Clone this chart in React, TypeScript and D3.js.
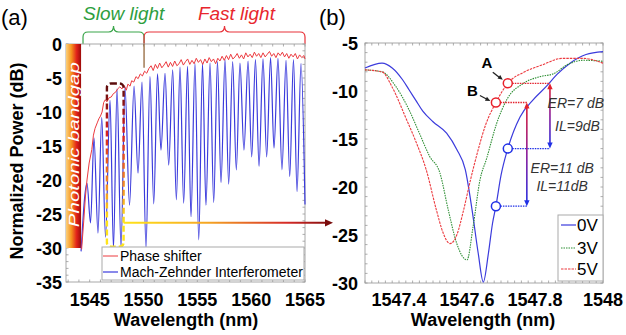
import React from 'react'
import * as d3 from 'd3'

// ---- panel (a) data ----
const wlTicksA = [1545, 1550, 1555, 1560, 1565]
const dbTicksA = [0, -5, -10, -15, -20, -25, -30, -35]

const phaseWl = [
  1544.25, 1544.45, 1544.6, 1544.75, 1544.95, 1545.2, 1545.35, 1545.5, 1545.7, 1545.85,
  1546.0, 1546.15, 1546.3, 1546.45, 1546.6, 1546.8, 1547.0, 1547.2, 1547.4, 1547.6,
  1547.8, 1548.0, 1548.2, 1548.4, 1548.55, 1548.75, 1548.9, 1549.1, 1549.3, 1549.5,
  1549.7, 1549.9, 1550.1, 1550.3, 1550.5, 1550.7, 1550.9, 1551.1, 1551.3, 1551.5,
  1551.7, 1551.9, 1552.1, 1552.3, 1552.5, 1552.7, 1552.9, 1553.1, 1553.3, 1553.5,
  1553.7, 1553.9, 1554.1, 1554.3, 1554.5, 1554.7, 1554.9, 1555.1, 1555.3, 1555.5,
  1555.7, 1555.9, 1556.1, 1556.3, 1556.5, 1556.7, 1556.9, 1557.1, 1557.3, 1557.5,
  1557.7, 1557.9, 1558.1, 1558.3, 1558.5, 1558.7, 1558.9, 1559.1, 1559.3, 1559.5,
  1559.7, 1559.9, 1560.1, 1560.3, 1560.5, 1560.7, 1560.9, 1561.1, 1561.3, 1561.5,
  1561.7, 1561.9, 1562.1, 1562.3, 1562.5, 1562.7, 1562.9, 1563.1, 1563.3, 1563.5,
  1563.7, 1563.9, 1564.1, 1564.3, 1564.5, 1564.7, 1564.9, 1565.0,
]
const phaseDb = [
  -30.2, -26, -22.5, -20, -17.5, -15.5, -13.4, -12.4, -11.6, -11.0,
  -10.6, -10.0, -8.6, -8.2, -8.5, -7.9, -7.8, -7.3, -7.1, -6.6,
  -6.3, -6.6, -6.1, -6.8, -5.9, -6.2, -5.4, -5.6, -4.8, -5.1,
  -4.4, -4.7, -4.0, -4.3, -3.6, -3.2, -3.9, -3.0, -3.6, -2.8,
  -3.5, -3.1, -2.6, -3.4, -2.7, -3.3, -2.5, -3.2, -2.9, -2.3,
  -3.1, -2.6, -2.2, -3.0, -2.4, -2.9, -2.1, -2.7, -2.3, -3.0,
  -2.2, -2.8, -2.0, -2.6, -2.2, -2.9, -2.1, -2.5, -1.8, -2.4,
  -1.7, -2.3, -1.5, -2.2, -1.9, -1.4, -2.1, -1.6, -2.2, -1.3,
  -1.9, -1.5, -2.0, -1.2, -1.8, -1.4, -2.0, -1.3, -1.9, -1.5,
  -1.1, -1.8, -1.4, -2.0, -1.3, -1.7, -1.2, -1.9, -1.4, -2.1,
  -1.5, -1.9, -1.4, -2.2, -1.6, -2.0, -1.7, -2.2,
]

const mziWl = [
  1544.2, 1544.75, 1545.08, 1545.4, 1545.77, 1546.12, 1546.47, 1546.89, 1547.21, 1547.54,
  1547.91, 1548.28, 1548.7, 1549.12, 1549.49, 1549.86, 1550.23, 1550.6, 1550.95, 1551.3,
  1551.62, 1552.0, 1552.34, 1552.71, 1553.05, 1553.39, 1553.73, 1554.09, 1554.41, 1554.78,
  1555.13, 1555.48, 1555.8, 1556.18, 1556.52, 1556.87, 1557.2, 1557.57, 1557.91, 1558.28,
  1558.62, 1558.96, 1559.33, 1559.71, 1560.05, 1560.4, 1560.73, 1561.1, 1561.44, 1561.8,
  1562.12, 1562.49, 1562.86, 1563.24, 1563.58, 1563.93, 1564.26, 1564.63, 1565.0,
]
const mziDb = [
  -30.5, -20.5, -26.3, -13.8, -27.8, -10.8, -28.4, -8.3, -30, -6.6,
  -30, -6.3, -23.7, -6.2, -19, -5.6, -30, -4.8, -23.5, -4.4,
  -15.6, -4.3, -17.8, -3.8, -22.9, -3.4, -23.4, -3.3, -25.4, -2.9,
  -28.8, -2.9, -23.7, -2.8, -23.3, -2.6, -20.4, -2.3, -20.6, -2.6,
  -18.5, -2.8, -15.6, -2.5, -16.6, -2.3, -18, -2.2, -16.6, -2.0,
  -15.3, -2.1, -18.5, -2.4, -19.5, -2.3, -21.7, -2.9, -23.6,
]

// ---- panel (b) data ----
const wlTicksB = [1547.4, 1547.6, 1547.8, 1548]
const dbTicksB = [-5, -10, -15, -20, -25, -30]

const wl0V = [1547.3, 1547.35, 1547.38, 1547.41, 1547.43, 1547.45, 1547.47, 1547.5, 1547.54, 1547.57, 1547.595, 1547.615, 1547.633, 1547.648, 1547.663, 1547.675, 1547.685, 1547.7, 1547.72, 1547.756, 1547.795, 1547.834, 1547.864, 1547.903, 1547.95, 1548.0]
const db0V = [-7.6, -7.1, -7.6, -8.8, -9.9, -11.0, -12.1, -13.2, -14.4, -16.1, -18.2, -22.4, -26.9, -29.9, -26.9, -23.8, -22.0, -18.8, -16.0, -12.7, -10.9, -9.5, -8.3, -7.1, -6.2, -5.9]

const wl3V = [1547.3, 1547.35, 1547.39, 1547.43, 1547.46, 1547.49, 1547.52, 1547.545, 1547.57, 1547.6, 1547.618, 1547.638, 1547.658, 1547.687, 1547.717, 1547.766, 1547.815, 1547.855, 1547.893, 1547.942, 1548.0]
const db3V = [-7.8, -8.0, -9.5, -12.0, -14.4, -16.8, -18.5, -22.4, -25.9, -27.6, -24.1, -19.3, -17.0, -13.4, -10.9, -9.2, -8.5, -8.2, -7.3, -6.8, -6.9]

const wl5V = [1547.3, 1547.35, 1547.38, 1547.42, 1547.45, 1547.48, 1547.51, 1547.53, 1547.55, 1547.57, 1547.59, 1547.61, 1547.63, 1547.655, 1547.685, 1547.72, 1547.77, 1547.82, 1547.88, 1547.94, 1548.0]
const db5V = [-7.8, -8.0, -9.6, -12.8, -15.3, -18.2, -22.4, -24.8, -25.9, -25.0, -22.4, -19.3, -16.5, -13.5, -11.2, -9.2, -8.0, -7.3, -6.6, -6.6, -7.1]

// marked points: [wavelength, dB at 5V, dB at 0V, arrow wavelength]
const markA = [1547.72, -9.2, -16, 1547.844]
const markB = [1547.685, -11.2, -22, 1547.776]

const font = 'Liberation Sans, Arial, Helvetica, sans-serif'
const blue = '#3b3bdc'
const red = '#ec3a3f'
const green = '#2f8f35'

const zip = (a: number[], b: number[]) => a.map((v, i) => [v, b[i]] as [number, number])

function head(x: number, y: number, dx: number, dy: number, s = 6) {
  const l = Math.hypot(dx, dy)
  const ux = dx / l, uy = dy / l
  const bx = x - ux * s, by = y - uy * s
  return `M${x},${y}L${bx - uy * s * 0.45},${by + ux * s * 0.45}L${bx + uy * s * 0.45},${by - ux * s * 0.45}Z`
}

const App = () => {
  const xA = d3.scaleLinear().domain([1542.8, 1565]).range([66, 305])
  const yA = d3.scaleLinear().domain([-35, 0]).range([282, 44])
  const xB = d3.scaleLinear().domain([1547.3, 1548]).range([365, 603])
  const yB = d3.scaleLinear().domain([-30, -5]).range([283, 43])

  const lineA = d3.line<[number, number]>().x((d) => xA(d[0])).y((d) => yA(d[1]))
  const lineB = d3.line<[number, number]>().x((d) => xB(d[0])).y((d) => yB(d[1])).curve(d3.curveMonotoneX)

  const phasePath = lineA(zip(phaseWl, phaseDb)) || ''
  const mziPath = lineA.curve(d3.curveMonotoneX)(zip(mziWl, mziDb)) || ''

  // minor ticks
  const mxA = d3.range(1543, 1565.01, 1)
  const myA = d3.range(-35, 0.01, 1)
  const mxB = d3.range(1547.3, 1548.001, 0.02)
  const myB = d3.range(-30, -4.99, 1)

  // dashed zoom box & link line
  const bx0 = xA(1546.6), bx1 = xA(1548.15), by0 = yA(-5.8), by1 = yA(-29.8)
  const ly = yA(-26.3)
  const lx1 = xB(1547.3) - 32

  // braces
  const brace = (a: number, b: number) => {
    const x0 = xA(a), x1 = xA(b), m = (x0 + x1) / 2
    return `M${x0},44L${x0},37Q${x0},32 ${x0 + 5},32L${m - 5},32Q${m},32 ${m},26Q${m},32 ${m + 5},32L${x1 - 5},32Q${x1},32 ${x1},37L${x1},44`
  }

  const marks = [markA, markB]

  return (
    <svg width={626} height={335} style={{ position: 'absolute', left: 0, top: 0, background: '#fff' }} fontFamily={font}>
      <defs>
        <linearGradient id="gap" x1="0" x2="1" y1="0" y2="0">
          <stop offset="0" stopColor="#fbd07c" />
          <stop offset="0.35" stopColor="#f6951f" />
          <stop offset="0.7" stopColor="#e2231a" />
          <stop offset="1" stopColor="#9c0a0a" />
        </linearGradient>
        <linearGradient id="box" gradientUnits="userSpaceOnUse" x1="0" x2="0" y1={by0} y2={by1}>
          <stop offset="0" stopColor="#5a0c0c" />
          <stop offset="0.3" stopColor="#d81e1e" />
          <stop offset="0.62" stopColor="#f28a22" />
          <stop offset="0.85" stopColor="#ffe41a" />
          <stop offset="1" stopColor="#ffe41a" />
        </linearGradient>
        <linearGradient id="link" gradientUnits="userSpaceOnUse" x1={bx1} x2={lx1} y1="0" y2="0">
          <stop offset="0" stopColor="#ffe41a" />
          <stop offset="0.4" stopColor="#f5a623" />
          <stop offset="0.78" stopColor="#d62b28" />
          <stop offset="1" stopColor="#7a0c0c" />
        </linearGradient>
        {marks.map((m, i) => (
          <linearGradient key={i} id={`er${i}`} gradientUnits="userSpaceOnUse" x1="0" x2="0" y1={yB(m[1])} y2={yB(m[2])}>
            <stop offset="0" stopColor="#e3202c" />
            <stop offset="0.5" stopColor="#8a1a9a" />
            <stop offset="1" stopColor="#2030e6" />
          </linearGradient>
        ))}
      </defs>

      {/* panel labels */}
      <text x={1} y={25} fontSize={22}>(a)</text>
      <text x={319} y={25} fontSize={22}>(b)</text>

      {/* ================= panel (a) ================= */}
      <text x={xA(1544.38)} y={20} fontSize={19} fontStyle="italic" fill="#2e9e3e">Slow light</text>
      <text x={xA(1555.05)} y={20} fontSize={19} fontStyle="italic" fill="#e8262d">Fast light</text>
      <path d={brace(1544.38, 1550.05)} fill="none" stroke="#3aa54a" strokeWidth={1.2} />
      <path d={brace(1550.05, 1565)} fill="none" stroke="#e8333a" strokeWidth={1.2} />

      <rect x={66} y={44} width={239} height={238} fill="#fff" stroke="#a8a8a8" strokeWidth={1} />
      {mxA.map((t) => (
        <g key={`mxa${t}`} stroke="#999" strokeWidth={0.8}>
          <line x1={xA(t)} x2={xA(t)} y1={44} y2={46.5} />
          <line x1={xA(t)} x2={xA(t)} y1={282} y2={279.5} />
        </g>
      ))}
      {myA.map((t) => (
        <g key={`mya${t}`} stroke="#999" strokeWidth={0.8}>
          <line x1={66} x2={68.5} y1={yA(t)} y2={yA(t)} />
          <line x1={305} x2={302.5} y1={yA(t)} y2={yA(t)} />
        </g>
      ))}

      {/* photonic bandgap */}
      <rect x={xA(1542.8)} y={yA(0)} width={xA(1544.2) - xA(1542.8)} height={yA(-30) - yA(0)} fill="url(#gap)" />
      <text
        transform={`translate(${(xA(1542.8) + xA(1544.2)) / 2 + 5},${yA(-14.8)}) rotate(-90)`}
        textAnchor="middle" fontSize={14.5} fontStyle="italic" fill="#fff"
        textLength={165} lengthAdjust="spacingAndGlyphs"
      >Photonic bandgap</text>

      <line x1={xA(1550.05)} x2={xA(1550.05)} y1={yA(0)} y2={yA(-3.5)} stroke="#8a5a2b" strokeWidth={1.2} />

      <path d={mziPath} fill="none" stroke={blue} strokeWidth={1.2} />
      <path d={phasePath} fill="none" stroke={red} strokeWidth={1} />

      {/* zoom window and link */}
      <rect x={bx0} y={by0} width={bx1 - bx0} height={by1 - by0} rx={4} fill="none" stroke="url(#box)" strokeWidth={2.4} strokeDasharray="6,3" />
      <line x1={bx1} x2={lx1 - 5} y1={ly} y2={ly + 0.01} stroke="url(#link)" strokeWidth={2} />
      <path d={head(lx1, ly, 1, 0, 8)} fill="#7a0c0c" />

      {/* legend (a) */}
      <rect x={102} y={247} width={202} height={33} fill="#fff" stroke="#aaa" strokeWidth={1} />
      <line x1={103} x2={118} y1={256} y2={256} stroke={red} strokeWidth={1} />
      <text x={120} y={261} fontSize={14}>Phase shifter</text>
      <line x1={103} x2={118} y1={272} y2={272} stroke={blue} strokeWidth={1.2} />
      <text x={120} y={277} fontSize={14}>Mach-Zehnder Interferometer</text>

      {/* axes text (a) */}
      {dbTicksA.map((t) => (
        <text key={`ya${t}`} x={62} y={yA(t) + 6.5} textAnchor="end" fontSize={18} fontWeight="bold">{t}</text>
      ))}
      {wlTicksA.map((t) => (
        <text key={`xa${t}`} x={xA(t)} y={306} textAnchor="middle" fontSize={18} fontWeight="bold">{t}</text>
      ))}
      <text x={186} y={326} textAnchor="middle" fontSize={18} fontWeight="bold">Wavelength (nm)</text>
      <text transform="translate(23,161) rotate(-90)" textAnchor="middle" fontSize={18} fontWeight="bold">Normalized Power (dB)</text>

      {/* ================= panel (b) ================= */}
      <rect x={365} y={43} width={238} height={240} fill="none" stroke="#a8a8a8" strokeWidth={1} />
      {mxB.map((t) => (
        <g key={`mxb${t}`} stroke="#999" strokeWidth={0.8}>
          <line x1={xB(t)} x2={xB(t)} y1={43} y2={45.5} />
          <line x1={xB(t)} x2={xB(t)} y1={283} y2={280.5} />
        </g>
      ))}
      {myB.map((t) => (
        <g key={`myb${t}`} stroke="#999" strokeWidth={0.8}>
          <line x1={365} x2={367.5} y1={yB(t)} y2={yB(t)} />
          <line x1={603} x2={600.5} y1={yB(t)} y2={yB(t)} />
        </g>
      ))}

      <path d={lineB(zip(wl0V, db0V)) || ''} fill="none" stroke={blue} strokeWidth={1.2} />
      <path d={lineB(zip(wl3V, db3V)) || ''} fill="none" stroke={green} strokeWidth={1.1} strokeDasharray="1.5,1" />
      <path d={lineB(zip(wl5V, db5V)) || ''} fill="none" stroke={red} strokeWidth={1.1} strokeDasharray="2.5,1" />

      {/* ER / IL markers */}
      {marks.map((m, i) => {
        const cx = xB(m[0]), cr = yB(m[1]), cb = yB(m[2]), ax = xB(m[3])
        return (
          <g key={`m${i}`}>
            <line x1={cx + 4.5} x2={ax} y1={cr} y2={cr} stroke="#e3202c" strokeWidth={1.3} strokeDasharray="1.5,1" />
            <line x1={cx + 4.5} x2={ax} y1={cb} y2={cb} stroke="#2030e6" strokeWidth={1.3} strokeDasharray="1.5,1" />
            <line x1={ax} x2={ax + 0.01} y1={cr + 5} y2={cb - 5} stroke={`url(#er${i})`} strokeWidth={1.6} />
            <path d={head(ax, cr, 0, -1, 6)} fill="#e3202c" />
            <path d={head(ax, cb, 0, 1, 6)} fill="#2030e6" />
            <circle cx={cx} cy={cr} r={4.5} fill="#fff" stroke="#e8202a" strokeWidth={1.5} />
            <circle cx={cx} cy={cb} r={4.5} fill="#fff" stroke="#2030e6" strokeWidth={1.5} />
          </g>
        )
      })}
      {(() => {
        const ax = xB(markA[0]), ay = yB(markA[1])
        const bx = xB(markB[0]), by = yB(markB[1])
        return (
          <g>
            <text x={ax - 21} y={ay - 15} textAnchor="middle" fontSize={15} fontWeight="bold">A</text>
            <line x1={ax - 15} y1={ay - 11} x2={ax - 8} y2={ay - 5.5} stroke="#222" strokeWidth={1.3} />
            <path d={head(ax - 5, ay - 3.5, 7, 5.5, 5)} fill="#222" />
            <text x={bx - 23.5} y={by - 7} textAnchor="middle" fontSize={15} fontWeight="bold">B</text>
            <line x1={bx - 16} y1={by - 7} x2={bx - 8.5} y2={by - 3} stroke="#222" strokeWidth={1.3} />
            <path d={head(bx - 5.5, by - 1.5, 8, 4, 5)} fill="#222" />
          </g>
        )
      })()}
      <text x={xB(1547.92)} y={108} textAnchor="middle" fontSize={14} fontStyle="italic" fill="#333">ER=7 dB</text>
      <text x={xB(1547.925)} y={131} textAnchor="middle" fontSize={14} fontStyle="italic" fill="#333">IL=9dB</text>
      <text x={xB(1547.88)} y={173} textAnchor="middle" fontSize={14} fontStyle="italic" fill="#333">ER=11 dB</text>
      <text x={xB(1547.88)} y={191} textAnchor="middle" fontSize={14} fontStyle="italic" fill="#333">IL=11dB</text>

      {/* legend (b) */}
      <rect x={558} y={215} width={45} height={66} fill="#fff" stroke="#aaa" strokeWidth={1} />
      <line x1={561} x2={576} y1={225} y2={225} stroke={blue} strokeWidth={1.2} />
      <text x={577} y={231} fontSize={17}>0V</text>
      <line x1={561} x2={576} y1={248} y2={248} stroke={green} strokeWidth={1.1} strokeDasharray="1.5,1" />
      <text x={577} y={254} fontSize={17}>3V</text>
      <line x1={561} x2={576} y1={269} y2={269} stroke={red} strokeWidth={1.1} strokeDasharray="2.5,1" />
      <text x={577} y={275} fontSize={17}>5V</text>

      {/* axes text (b) */}
      {dbTicksB.map((t) => (
        <text key={`yb${t}`} x={358} y={yB(t) + 6.5} textAnchor="end" fontSize={18} fontWeight="bold">{t}</text>
      ))}
      {wlTicksB.map((t) => (
        <text key={`xb${t}`} x={xB(t)} y={306} textAnchor="middle" fontSize={18} fontWeight="bold">{t}</text>
      ))}
      <text x={483} y={326} textAnchor="middle" fontSize={18} fontWeight="bold">Wavelength (nm)</text>
    </svg>
  )
}

export default App
